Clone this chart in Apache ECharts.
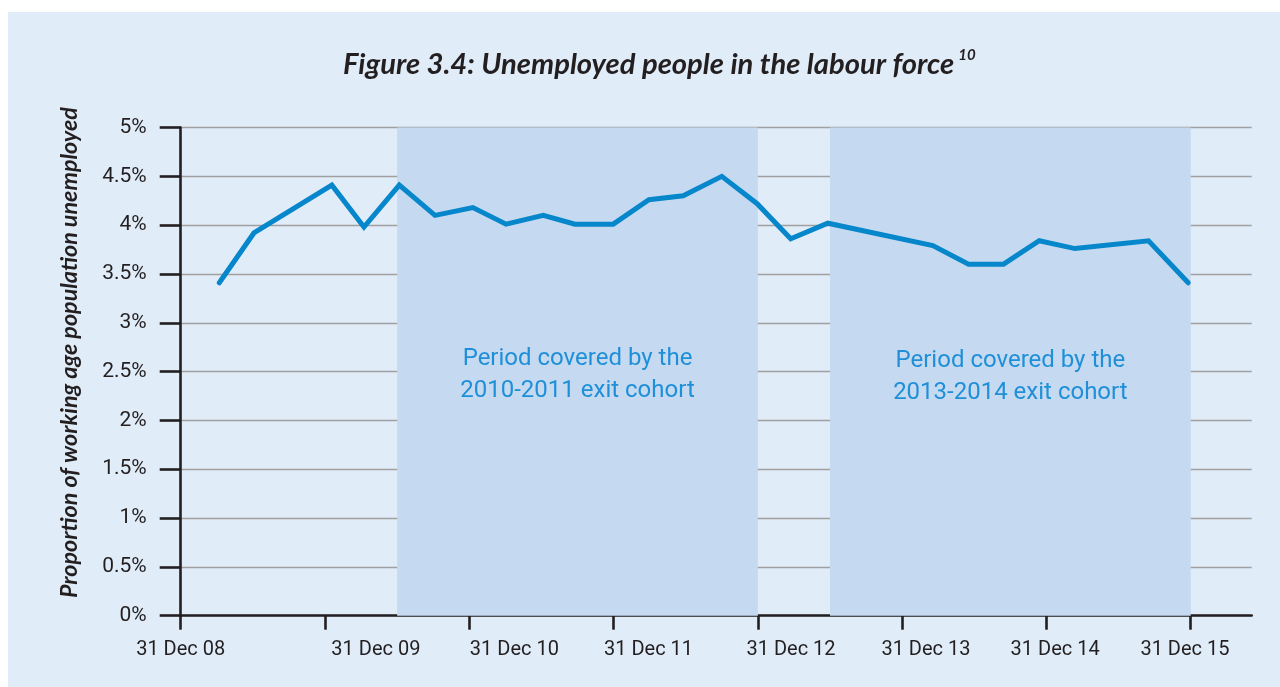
<!DOCTYPE html>
<html>
<head>
<meta charset="utf-8">
<script src="https://cdn.jsdelivr.net/npm/echarts@6/dist/echarts.min.js"></script>
<style>
html,body{margin:0;padding:0;background:#ffffff;}
#chart{width:1280px;height:687px;}
</style>
</head>
<body>
<div id="chart"></div>
<script>
// x values: quarters since 31 Dec 08
const quarters = [1.07, 2.03, 4.19, 5.08, 6.06, 7.05, 8.1, 9.02, 10.05, 10.93, 11.99, 12.98, 13.93, 15.0, 15.98, 16.91, 17.94, 20.85, 21.84, 22.81, 23.8, 24.79, 26.83, 27.93];
const unemployed = [3.41, 3.92, 4.41, 3.98, 4.41, 4.10, 4.18, 4.01, 4.10, 4.01, 4.01, 4.26, 4.30, 4.50, 4.22, 3.86, 4.02, 3.79, 3.60, 3.60, 3.84, 3.76, 3.84, 3.41];
const tickQuarters = [0, 4, 8, 12, 16, 20, 24, 28];
const labelQuarters = [0, 5.41, 9.25, 12.97, 16.92, 20.66, 24.24, 27.84];
const tickLabels = ['31 Dec 08', '31 Dec 09', '31 Dec 10', '31 Dec 11', '31 Dec 12', '31 Dec 13', '31 Dec 14', '31 Dec 15'];
const periods = [[6, 16], [18, 28]];
const periodLabels = ['Period covered by the\n2010-2011 exit cohort', 'Period covered by the\n2013-2014 exit cohort'];

const chart = echarts.init(document.getElementById('chart'));
const dark = '#231f20';
const labelOffsets = [[0, 3], [0, 5]];
chart.setOption({
  animation: false,
  backgroundColor: '#ffffff',
  graphic: [{
    type: 'rect', z: -10, silent: true,
    shape: {x: 8, y: 12, width: 1272, height: 675},
    style: {fill: '#e0ecf8'}
  }],
  title: {
    left: 338, top: 43,
    text: '{t|Figure 3.4: Unemployed people in the labour force}{s|10}',
    textStyle: {
      rich: {
        t: {fontFamily: 'Lato', fontWeight: 'bold', fontStyle: 'italic', fontSize: 29.2, color: dark, lineHeight: 34},
        s: {fontFamily: 'Lato', fontWeight: 'bold', fontStyle: 'italic', fontSize: 15, color: dark, verticalAlign: 'top', lineHeight: 34, padding: [0, 0, 12, 4]}
      }
    }
  },
  grid: {left: 180.7, right: 28.3, top: 127.5, bottom: 71.3, containLabel: false},
  xAxis: {
    type: 'value', min: 0, max: 29.69,
    axisLine: {show: true, onZero: false, lineStyle: {color: dark, width: 2.6}},
    axisTick: {show: true, customValues: tickQuarters, length: 14, lineStyle: {color: dark, width: 2.6}},
    axisLabel: {
      customValues: labelQuarters, margin: 24,
      fontFamily: 'Roboto', fontSize: 20, color: dark,
      formatter: function (v) {
        let best = 0, d = 1e9;
        labelQuarters.forEach((q, i) => { if (Math.abs(q - v) < d) { d = Math.abs(q - v); best = i; } });
        return tickLabels[best];
      }
    },
    splitLine: {show: false}
  },
  yAxis: {
    type: 'value', min: 0, max: 5, interval: 0.5,
    name: 'Proportion of working age population unemployed',
    nameLocation: 'middle', nameGap: 100,
    nameTextStyle: {fontFamily: 'Lato', fontWeight: 'bold', fontStyle: 'italic', fontSize: 23.3, color: dark, padding: [0, 0, 0, 38]},
    axisLine: {show: true, lineStyle: {color: dark, width: 2.6}},
    axisTick: {show: true, length: 21, lineStyle: {color: dark, width: 2.6}},
    axisLabel: {margin: 34, fontFamily: 'Roboto', fontSize: 21, color: dark,
      formatter: v => v + '%'},
    splitLine: {show: true, lineStyle: {color: '#a0a0a0', width: 1.3}}
  },
  series: [{
    type: 'line',
    data: quarters.map((q, i) => [q, unemployed[i]]),
    symbol: 'none',
    lineStyle: {color: '#0787cb', width: 5, cap: 'round', join: 'miter'},
    z: 5,
    markArea: {
      silent: true,
      itemStyle: {color: '#c5daf0'},
      label: {show: true, position: 'inside', fontFamily: 'Roboto', fontSize: 24, color: '#1f8fd8', lineHeight: 32, align: 'center'},
      data: periods.map((p, i) => [
        {xAxis: p[0], yAxis: 0, name: periodLabels[i], label: {offset: labelOffsets[i]}},
        {xAxis: p[1], yAxis: 5}
      ])
    }
  }]
});
</script>
</body>
</html>
